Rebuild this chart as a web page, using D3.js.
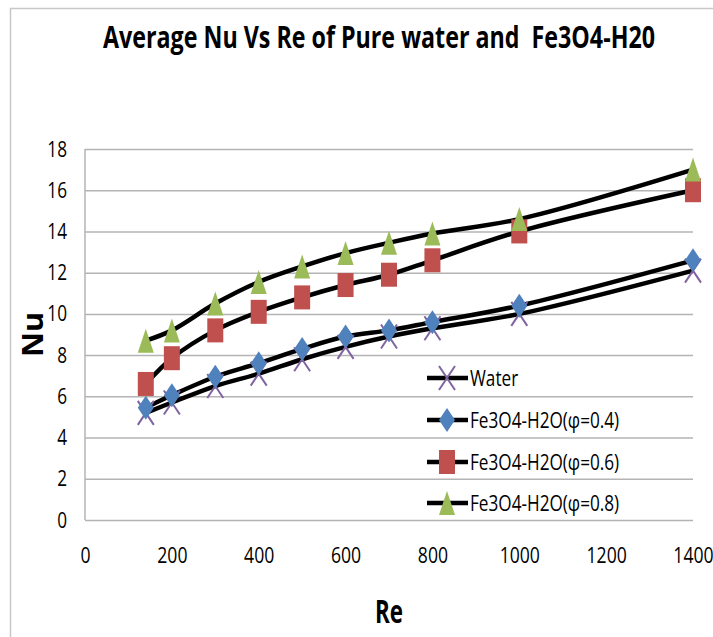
<!DOCTYPE html>
<html>
<head>
<meta charset="utf-8">
<script src="https://cdn.jsdelivr.net/npm/d3@7"></script>
<style>
  body { margin: 0; background: #fff; }
  text { font-family: "Open Sans", "Liberation Sans", sans-serif; fill: #000; }
</style>
</head>
<body>
<div id="chart"></div>
<script>
// Re on the x axis, average Nu per series
const reValues = [140, 200, 300, 400, 500, 600, 700, 800, 1000, 1400]
const waterNu = [5.2, 5.7, 6.5, 7.1, 7.8, 8.4, 8.9, 9.3, 10.0, 12.1]
const phi04Nu = [5.45, 6.05, 6.95, 7.6, 8.3, 8.9, 9.2, 9.6, 10.4, 12.6]
const phi06Nu = [6.6, 7.85, 9.2, 10.1, 10.8, 11.4, 11.9, 12.6, 14.0, 16.0]
const phi08Nu = [8.7, 9.2, 10.5, 11.55, 12.3, 12.95, 13.45, 13.9, 14.6, 17.0]
const seriesNames = ["Water", "Fe3O4-H2O(\u03c6=0.4)", "Fe3O4-H2O(\u03c6=0.6)", "Fe3O4-H2O(\u03c6=0.8)"]
const xTicks = [0, 200, 400, 600, 800, 1000, 1200, 1400]
const yTicks = [0, 2, 4, 6, 8, 10, 12, 14, 16, 18]

const width = 713, height = 637
const plot = { left: 85, right: 693, top: 149, bottom: 520 }

// the original picture is squeezed sideways, so text gets narrowed too
const squeeze = (sel, k) => sel.each(function() {
  const w = this.getComputedTextLength()
  d3.select(this).attr("textLength", w * k).attr("lengthAdjust", "spacingAndGlyphs")
})

const svg = d3.select("#chart").append("svg")
  .attr("width", width)
  .attr("height", height)

// outer frame (only top and left edges visible)
svg.append("path")
  .attr("d", `M10.5,${height} V8.5 H${width}`)
  .attr("fill", "none")
  .attr("stroke", "#c8c8c8")
  .attr("stroke-width", 1.5)

const x = d3.scaleLinear().domain([0, 1400]).range([plot.left, plot.right])
const y = d3.scaleLinear().domain([0, 18]).range([plot.bottom, plot.top])

// gridlines
svg.append("g")
  .attr("transform", `translate(${plot.left},0)`)
  .call(d3.axisLeft(y).tickValues(yTicks).tickSize(-(plot.right - plot.left)).tickFormat(""))
  .call(g => g.select(".domain").remove())
  .call(g => g.selectAll("line").attr("stroke", "#b4b4b4").attr("stroke-width", 1.5))

svg.append("line")
  .attr("x1", plot.left).attr("x2", plot.left)
  .attr("y1", plot.top).attr("y2", plot.bottom)
  .attr("stroke", "#b4b4b4").attr("stroke-width", 1.5)

// y tick labels
svg.append("g")
  .attr("transform", `translate(${plot.left},0)`)
  .call(d3.axisLeft(y).tickValues(yTicks).tickSize(0).tickPadding(18).tickFormat(d3.format("d")))
  .call(g => g.select(".domain").remove())
  .call(g => g.selectAll("text").attr("font-size", 22).style("font-family", null)
    .attr("fill", "#000").call(squeeze, 0.78))

// x tick labels
svg.append("g")
  .attr("transform", `translate(0,${plot.bottom})`)
  .call(d3.axisBottom(x).tickValues(xTicks).tickSize(0).tickPadding(27).tickFormat(d3.format("d")))
  .call(g => g.select(".domain").remove())
  .call(g => g.selectAll("text").attr("font-size", 22).style("font-family", null)
    .attr("fill", "#000").call(squeeze, 0.8))

// titles
svg.append("text")
  .attr("x", 103).attr("y", 48)
  .attr("font-size", 31)
  .attr("font-weight", "bold")
  .attr("textLength", 552)
  .attr("lengthAdjust", "spacingAndGlyphs")
  .style("white-space", "pre")
  .text("Average Nu Vs Re of Pure water and  Fe3O4-H20")

svg.append("text")
  .attr("x", 375).attr("y", 623)
  .attr("font-size", 32)
  .attr("font-weight", "bold")
  .attr("textLength", 28)
  .attr("lengthAdjust", "spacingAndGlyphs")
  .text("Re")

svg.append("text")
  .attr("transform", "translate(43,357) rotate(-90)")
  .attr("font-size", 29)
  .attr("font-weight", "bold")
  .attr("textLength", 45)
  .attr("lengthAdjust", "spacingAndGlyphs")
  .text("Nu")

// marker shapes, 16 wide by 24 tall like the squeezed original
const markerPath = {
  cross: "M-8,-12 L8,12 M-8,12 L8,-12",
  diamond: "M0,-12 L8,0 L0,12 L-8,0 Z",
  square: "M-8,-12 H8 V12 H-8 Z",
  triangle: "M0,-12 L8,12 L-8,12 Z"
}

const series = [
  { name: seriesNames[0], values: waterNu, shape: "cross", color: "#8064a2" },
  { name: seriesNames[1], values: phi04Nu, shape: "diamond", color: "#4f81bd" },
  { name: seriesNames[2], values: phi06Nu, shape: "square", color: "#c0504d" },
  { name: seriesNames[3], values: phi08Nu, shape: "triangle", color: "#9bbb59" }
]

const line = d3.line()
  .x(d => x(d.re))
  .y(d => y(d.nu))
  .curve(d3.curveCatmullRom.alpha(0.5))

const drawMarker = (g, s) => {
  if (s.shape === "cross") {
    g.append("path").attr("d", markerPath.cross)
      .attr("fill", "none").attr("stroke", s.color).attr("stroke-width", 2)
  } else {
    g.append("path").attr("d", markerPath[s.shape]).attr("fill", s.color)
  }
}

series.forEach(s => {
  const pts = reValues.map((re, i) => ({ re: re, nu: s.values[i] }))
  svg.append("path")
    .datum(pts)
    .attr("d", line)
    .attr("fill", "none")
    .attr("stroke", "#000")
    .attr("stroke-width", 4.5)
    .attr("stroke-linejoin", "round")
})

series.forEach(s => {
  reValues.forEach((re, i) => {
    const g = svg.append("g").attr("transform", `translate(${x(re)},${y(s.values[i])})`)
    drawMarker(g, s)
  })
})

// legend
const legendY = [378, 420, 462, 503]
series.forEach((s, i) => {
  const g = svg.append("g").attr("transform", `translate(0,${legendY[i]})`)
  g.append("line")
    .attr("x1", 427).attr("x2", 468)
    .attr("stroke", "#000").attr("stroke-width", 4.5)
  const m = g.append("g").attr("transform", "translate(447,0)")
  drawMarker(m, s)
  g.append("text")
    .attr("x", 470).attr("y", 8)
    .attr("font-size", 22)
    .text(s.name)
    .call(squeeze, 0.78)
})
</script>
</body>
</html>
